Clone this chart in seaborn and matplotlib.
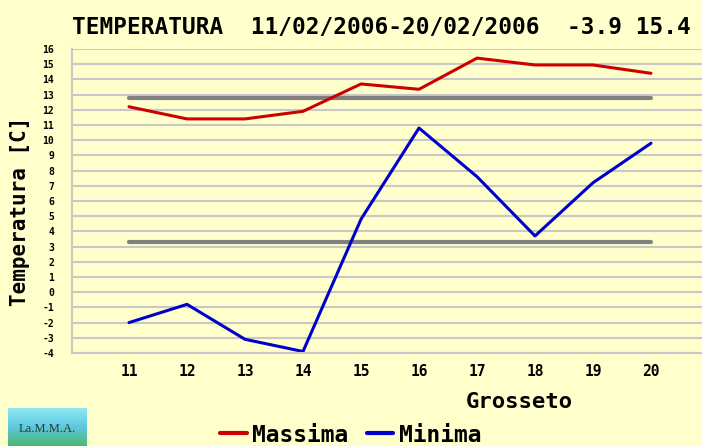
import numpy as np
import pandas as pd
import seaborn as sns
import matplotlib.pyplot as plt
from matplotlib.colors import LinearSegmentedColormap

# daily values (Grosseto, 11-20 Feb 2006)
days = [11, 12, 13, 14, 15, 16, 17, 18, 19, 20]
massima = [12.2, 11.4, 11.4, 11.9, 13.7, 13.35, 15.4, 14.95, 14.95, 14.4]
minima = [-2.0, -0.8, -3.1, -3.9, 4.8, 10.8, 7.6, 3.7, 7.2, 9.8]
ref_max = 12.8
ref_min = 3.3
yticks = list(range(-4, 17))

df = pd.DataFrame({
    "giorno": days * 2,
    "temp": massima + minima,
    "serie": ["Massima"] * len(days) + ["Minima"] * len(days),
})

bg = "#ffffcc"
mono = "DejaVu Sans Mono"

sns.set_style("white")
plt.rcParams["text.color"] = "black"
plt.rcParams["xtick.labelcolor"] = "black"
plt.rcParams["ytick.labelcolor"] = "black"

fig = plt.figure(figsize=(7.02, 4.46), dpi=100, facecolor=bg)
ax = fig.add_axes([72 / 702, 1 - 353 / 446, 1 - 72 / 702, (353 - 49) / 446])
ax.set_facecolor(bg)

# grid first so the data lies on top
for v in yticks:
    ax.axhline(v, color="#c8c8c8", lw=1.5, zorder=0)

# reference lines
ax.plot([days[0], days[-1]], [ref_max, ref_max], color="#808080", lw=3, zorder=1)
ax.plot([days[0], days[-1]], [ref_min, ref_min], color="#808080", lw=3, zorder=1)

sns.lineplot(data=df, x="giorno", y="temp", hue="serie",
             palette={"Massima": "#cc0000", "Minima": "#0000cc"},
             linewidth=2.2, ax=ax, legend=False, zorder=2)

ax.set_xlim(11 - 57 / 58, 11 + (702 - 129) / 58)
ax.set_ylim(-4, 16)
ax.set_xticks(days)
ax.set_xticklabels([str(d) for d in days], fontsize=10.5, fontweight="bold", family=mono)
ax.set_yticks(yticks)
ax.set_yticklabels([str(v) for v in yticks], fontsize=7, fontweight="bold", family=mono)
ax.tick_params(axis="x", length=5, width=1.5, color="#c8c8c8", pad=3)
ax.tick_params(axis="y", length=0, pad=13)
ax.set_xlabel("")
ax.set_ylabel("")

for s in ["top", "right"]:
    ax.spines[s].set_visible(False)
for s in ["left", "bottom"]:
    ax.spines[s].set_color("#c8c8c8")
    ax.spines[s].set_linewidth(1.5)

fig.text(72 / 702, 1 - 28 / 446, "TEMPERATURA  11/02/2006-20/02/2006  -3.9 15.4",
         fontsize=16.4, fontweight="bold", family=mono, ha="left", va="center")
fig.text(20 / 702, 1 - 211 / 446, "Temperatura [C]", rotation=90,
         fontsize=15, fontweight="bold", family=mono, ha="center", va="center")
fig.text(519 / 702, 1 - 402 / 446, "Grosseto",
         fontsize=16, fontweight="bold", family=mono, ha="center", va="center")

handles = [plt.Line2D([], [], color="#cc0000", lw=3),
           plt.Line2D([], [], color="#0000cc", lw=3)]
fig.legend(handles, ["Massima", "Minima"], loc="center", ncol=2,
           bbox_to_anchor=(351 / 702, 1 - 435 / 446), frameon=False,
           prop={"family": mono, "weight": "bold", "size": 16.5},
           handlelength=1.15, handletextpad=0.25, columnspacing=0.8,
           borderpad=0.1)

# small LaMMA logo in the bottom-left corner
logo = fig.add_axes([8 / 702, 0, 79 / 702, 38 / 446])
grad = np.linspace(0, 1, 50).reshape(-1, 1)
logo.imshow(grad, aspect="auto", extent=[0, 1, 0, 1],
            cmap=LinearSegmentedColormap.from_list("lamma", ["#8ee8f4", "#5cc8e0", "#4cb870"]))
logo.text(0.5, 0.45, "La.M.M.A.", ha="center", va="center", fontsize=9,
          family="Liberation Serif", color="#2a3a30")
logo.set_axis_off()

fig.savefig("out.png", dpi=100, facecolor=bg)
